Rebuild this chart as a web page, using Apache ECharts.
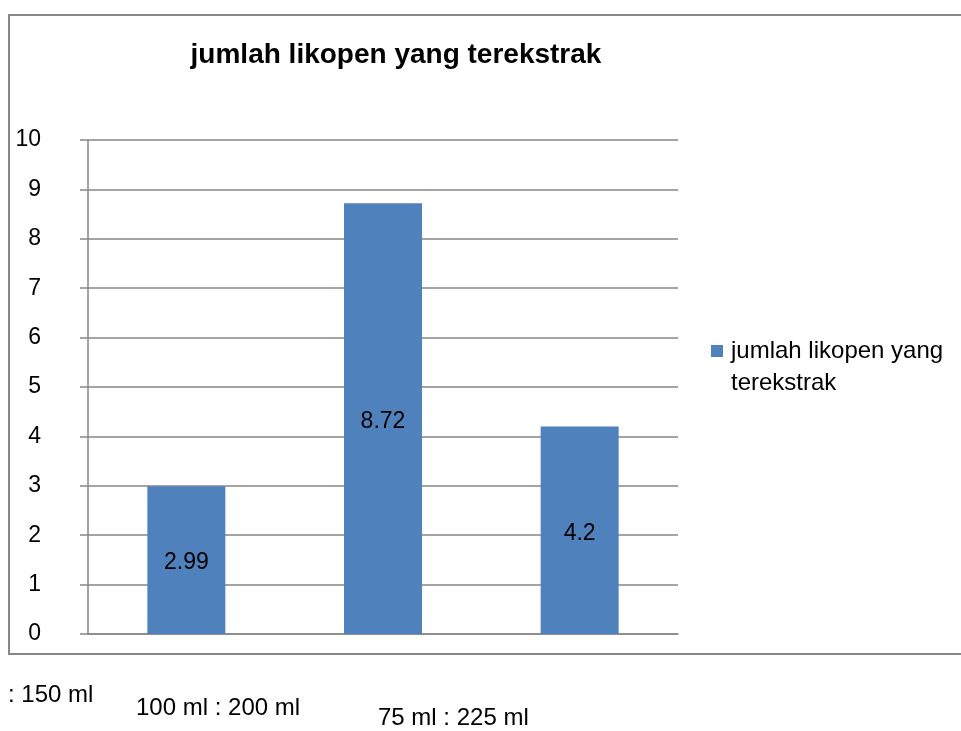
<!DOCTYPE html>
<html>
<head>
<meta charset="utf-8">
<script src="https://cdn.jsdelivr.net/npm/echarts@6/dist/echarts.min.js"></script>
<style>
html,body{margin:0;padding:0;background:#fff;}
#c{width:961px;height:731px;}
</style>
</head>
<body>
<div id="c"></div>
<script>
const title = 'jumlah likopen yang terekstrak';
const seriesName = 'jumlah likopen yang terekstrak';
const legendLines = ['jumlah likopen yang', 'terekstrak'];
const categories = [': 150 ml', '100 ml : 200 ml', '75 ml : 225 ml'];
const values = [2.99, 8.72, 4.2];
const yTicks = [0, 10, 1];

const FONT = 'Liberation Sans';
const chart = echarts.init(document.getElementById('c'), null, {renderer: 'canvas'});

const labelPos = [[8, 697], [136, 710], [378, 720]];

chart.setOption({
  backgroundColor: '#fff',
  animation: false,
  title: {
    text: title,
    left: 391, top: 36,
    textAlign: 'center',
    textStyle: {fontFamily: FONT, fontWeight: 'bold', fontSize: 28, color: '#000'}
  },
  legend: {show: false, data: [seriesName]},
  grid: {left: 88, top: 140, width: 590, height: 494, containLabel: false},
  xAxis: {
    type: 'category',
    data: categories,
    axisLine: {show: true, lineStyle: {color: '#868686', width: 1.5}},
    axisTick: {show: false},
    axisLabel: {show: false}
  },
  yAxis: {
    type: 'value',
    min: yTicks[0], max: yTicks[1], interval: yTicks[2],
    axisLine: {show: true, lineStyle: {color: '#868686', width: 1.5}},
    axisTick: {show: true, length: 8, lineStyle: {color: '#868686', width: 1.5}},
    axisLabel: {margin: 47, fontFamily: FONT, fontSize: 23, color: '#000', align: 'right'},
    splitLine: {show: true, lineStyle: {color: '#868686', width: 1.5}}
  },
  series: [{
    name: seriesName,
    type: 'bar',
    data: values,
    barWidth: 78,
    itemStyle: {color: '#4F81BD'},
    label: {show: true, position: 'inside', offset: [0, 3], fontFamily: FONT, fontSize: 23, color: '#000'}
  }],
  graphic: [
    {type: 'rect', shape: {x: 9, y: 15, width: 980, height: 639}, style: {fill: 'none', stroke: '#888', lineWidth: 2}, silent: true, z: -1},
    {type: 'rect', shape: {x: 711, y: 345, width: 12, height: 12}, style: {fill: '#4F81BD'}, silent: true},
    {type: 'text', left: 731, top: 335, style: {text: legendLines.join('\n'), lineHeight: 32, fontFamily: FONT, fontSize: 24, fill: '#000'}, silent: true}
  ].concat(categories.map((c, i) => ({
    type: 'text', left: labelPos[i][0], top: labelPos[i][1] - 14,
    style: {text: c, fontFamily: FONT, fontSize: 24, fill: '#000'}
  })))
});
</script>
</body>
</html>
